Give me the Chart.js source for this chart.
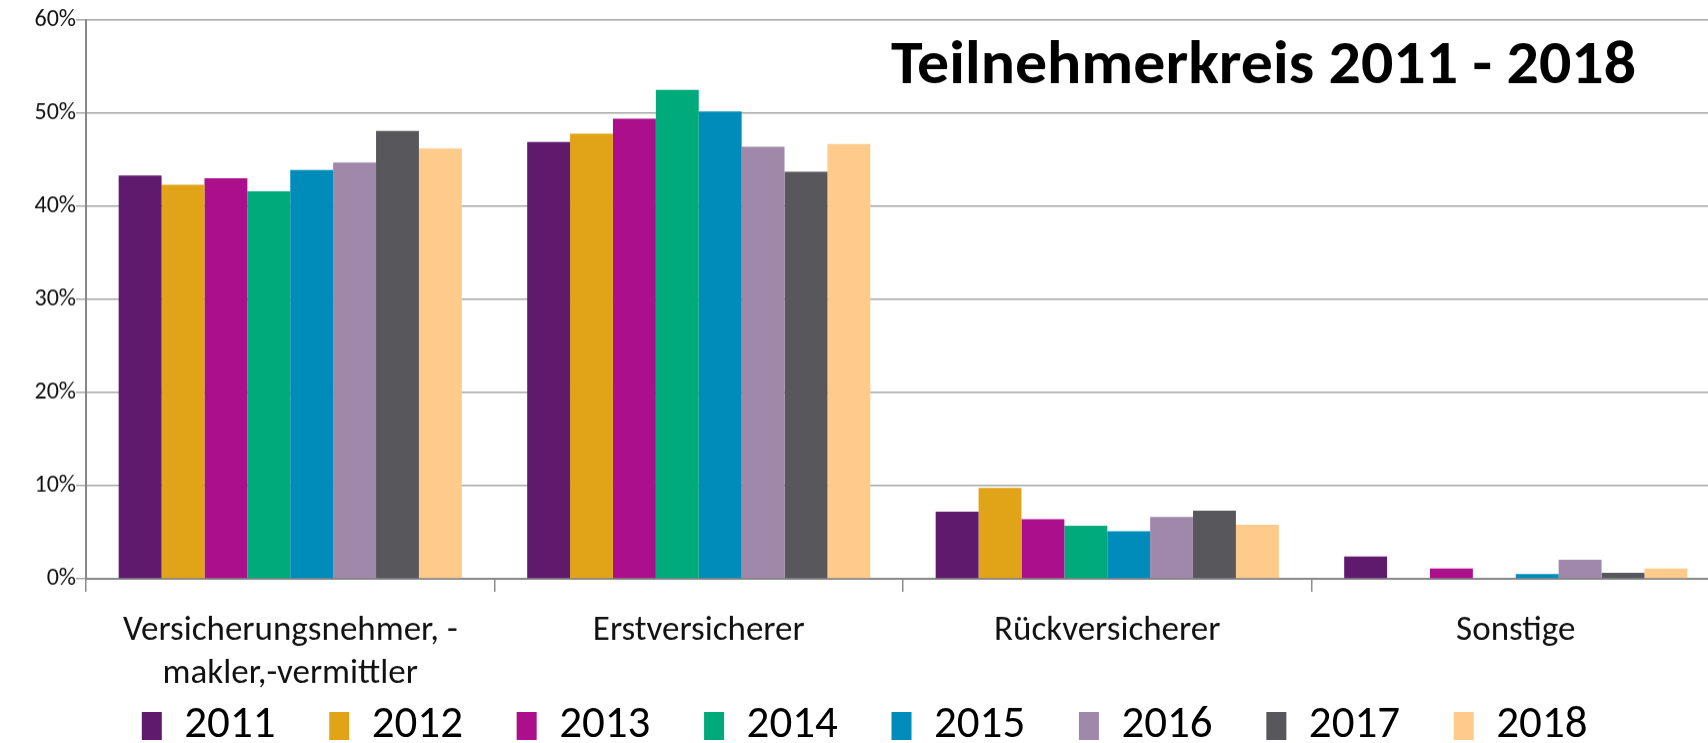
<!DOCTYPE html>
<html>
<head>
<meta charset="utf-8">
<script src="https://cdn.jsdelivr.net/npm/chart.js@4/dist/chart.umd.min.js"></script>
<style>
  html, body { margin: 0; padding: 0; background: #fff; overflow: hidden; }
  #wrap { width: 1720px; height: 757.5px; position: relative; }
</style>
</head>
<body>
<div id="wrap"><canvas id="chart"></canvas></div>
<script>
const categories = [['Versicherungsnehmer, -', 'makler,-vermittler'], 'Erstversicherer', 'Rückversicherer', 'Sonstige'];
const years = ['2011', '2012', '2013', '2014', '2015', '2016', '2017', '2018'];
const yTicks = [0, 10, 20, 30, 40, 50, 60];

// percent per category, one array per year
const v2011 = [43.3, 46.9, 7.2, 2.4];
const v2012 = [42.3, 47.8, 9.75, 0];
const v2013 = [43.0, 49.4, 6.4, 1.1];
const v2014 = [41.6, 52.5, 5.7, 0];
const v2015 = [43.9, 50.2, 5.1, 0.5];
const v2016 = [44.7, 46.4, 6.65, 2.05];
const v2017 = [48.1, 43.7, 7.3, 0.65];
const v2018 = [46.2, 46.7, 5.8, 1.1];
const series = [v2011, v2012, v2013, v2014, v2015, v2016, v2017, v2018];

const colors = ['#5f1a6e', '#e1a318', '#ab0f8b', '#00aa7a', '#008cba', '#a088ab', '#58585c', '#fecb8a'];
const titleText = 'Teilnehmerkreis 2011 - 2018';
const fontFamily = 'Carlito, Lato, sans-serif';

const cornerTitle = {
  id: 'cornerTitle',
  afterDraw(chart) {
    const { ctx, chartArea } = chart;
    ctx.save();
    ctx.font = 'bold 61px ' + fontFamily;
    const w = ctx.measureText(titleText).width;
    ctx.translate(chartArea.right - 84, chartArea.top + 48);
    ctx.scale(745 / w, 1);
    ctx.fillStyle = '#000';
    ctx.textAlign = 'right';
    ctx.textBaseline = 'middle';
    ctx.fillText(titleText, 0, 0);
    ctx.restore();
  }
};

// nudge the legend row to the right, like the original
const legendShift = {
  id: 'legendShift',
  afterLayout(chart) {
    chart.legend.left += 25;
    chart.legend.right += 25;
  }
};

Chart.defaults.font.family = fontFamily;

const ctx = document.getElementById('chart').getContext('2d');
const chart = new Chart(ctx, {
  type: 'bar',
  data: {
    labels: categories,
    datasets: years.map((y, i) => ({
      label: y,
      data: series[i],
      backgroundColor: colors[i],
      borderWidth: 0,
      categoryPercentage: 0.84,
      barPercentage: 1
    }))
  },
  options: {
    responsive: true,
    maintainAspectRatio: false,
    animation: false,
    layout: { padding: { top: 20, left: 0, right: 0, bottom: 0 } },
    plugins: {
      legend: {
        position: 'bottom',
        labels: {
          boxWidth: 20, boxHeight: 28, padding: 13, color: '#000', font: { size: 45, lineHeight: 1 },
          generateLabels(chart) {
            return Chart.defaults.plugins.legend.labels.generateLabels(chart)
              .map(l => Object.assign(l, { text: l.text + '    ' }));
          }
        }
      },
      tooltip: { enabled: false }
    },
    scales: {
      x: {
        grid: { drawOnChartArea: false, tickLength: 13, color: '#8c8c8c', lineWidth: 1.5 },
        border: { color: '#878787', width: 2 },
        ticks: { padding: 17, color: '#111', font: { size: 35, lineHeight: 1.25 } },
        afterFit(s) { s.height = 111.5; }
      },
      y: {
        min: 0,
        max: 60,
        afterBuildTicks(s) { s.ticks = yTicks.map(v => ({ value: v })); },
        ticks: { padding: 0, color: '#111', font: { size: 24 }, callback: v => v + '%' },
        grid: { tickLength: 10, color: '#a6a6a6', lineWidth: 1.5 },
        border: { color: '#878787', width: 2 },
        afterFit(s) { s.width = 86; }
      }
    }
  },
  plugins: [cornerTitle, legendShift]
});
</script>
</body>
</html>
